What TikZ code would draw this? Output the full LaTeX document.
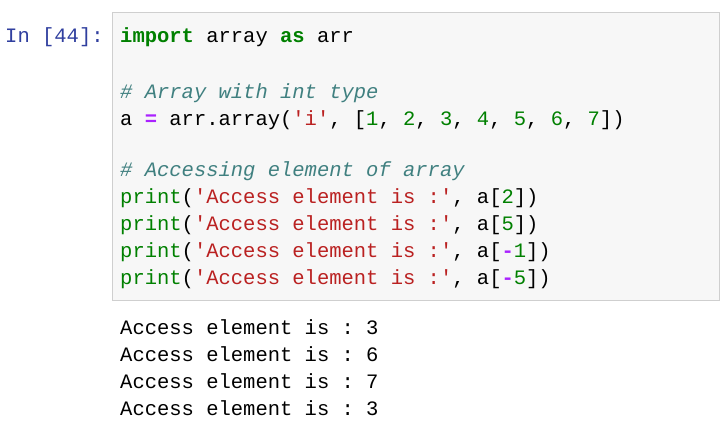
\documentclass[tikz,border=0pt]{standalone}
\usepackage{fontspec}
\setmainfont{Liberation Sans}
\setmonofont{Liberation Mono}
\usetikzlibrary{positioning}
\definecolor{kwgreen}{HTML}{008000}
\definecolor{cmteal}{HTML}{408080}
\definecolor{strred}{HTML}{BA2121}
\definecolor{oppurple}{HTML}{AA22FF}
\definecolor{promptblue}{HTML}{303F9F}
\definecolor{cellgray}{HTML}{F7F7F7}
\definecolor{cellborder}{HTML}{CFCFCF}
\newcommand{\kw}[1]{\textcolor{kwgreen}{\textbf{#1}}}
\newcommand{\cm}[1]{\textcolor{cmteal}{\textit{#1}}}
\newcommand{\st}[1]{\textcolor{strred}{#1}}
\newcommand{\nm}[1]{\textcolor{kwgreen}{#1}}
\newcommand{\op}[1]{\textcolor{oppurple}{\textbf{#1}}}
\begin{document}
\begin{tikzpicture}[x=1pt,y=-1pt,
  code/.style={anchor=west,inner sep=0pt,font=\ttfamily\fontsize{20.5}{24}\selectfont}]
  \useasboundingbox[fill=white] (0,0) rectangle (720,434);
  \draw[cellborder,fill=cellgray] (112,12) rectangle (719.5,300);
  \node[code,text=promptblue] (prompt) at (5,37) {In [44]:};
  \node[code] (l1) at (120,37) {\kw{import} array \kw{as} arr};
  \node[code] (l2) at (120,93) {\cm{\# Array with int type}};
  \node[code] (l3) at (120,120) {a \op{=} arr.array(\st{'i'}, [\nm{1}, \nm{2}, \nm{3}, \nm{4}, \nm{5}, \nm{6}, \nm{7}])};
  \node[code] (l4) at (120,171) {\cm{\# Accessing element of array}};
  \node[code] (l5) at (120,198) {\nm{print}(\st{'Access element is :'}, a[\nm{2}])};
  \node[code] (l6) at (120,225) {\nm{print}(\st{'Access element is :'}, a[\nm{5}])};
  \node[code] (l7) at (120,252) {\nm{print}(\st{'Access element is :'}, a[\op{-}\nm{1}])};
  \node[code] (l8) at (120,279) {\nm{print}(\st{'Access element is :'}, a[\op{-}\nm{5}])};
  \node[code] (o1) at (120,327) {Access element is : 3};
  \node[code] (o2) at (120,354) {Access element is : 6};
  \node[code] (o3) at (120,381) {Access element is : 7};
  \node[code] (o4) at (120,408) {Access element is : 3};
\end{tikzpicture}
\end{document}
